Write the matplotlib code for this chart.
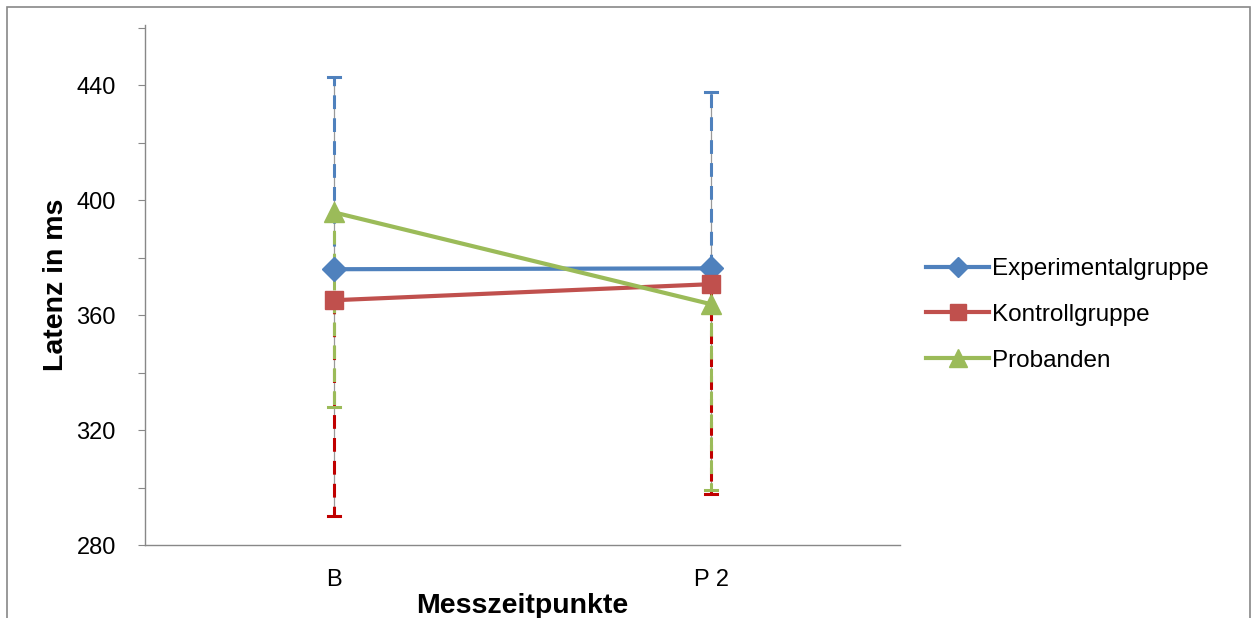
import matplotlib
matplotlib.use("Agg")
import matplotlib.pyplot as plt
from matplotlib.patches import Rectangle

plt.rcParams['font.family'] = ['Liberation Sans', 'DejaVu Sans']

categories = ["B", "P 2"]
series_names = ["Experimentalgruppe", "Kontrollgruppe", "Probanden"]
experimental = [376.0, 376.3]
kontroll = [365.2, 370.8]
probanden = [395.8, 363.8]
# error bar extents (Experimental: plus only; others: minus only)
experimental_plus = [67.0, 61.3]
kontroll_minus = [75.2, 73.1]
probanden_minus = [67.8, 64.7]

colors = ["#4F81BD", "#C0504D", "#9BBB59"]
err_colors = ["#4F81BD", "#C00000", "#9BBB59"]

fig = plt.figure(figsize=(12.57, 6.18), dpi=100)
ax = fig.add_axes([0.1154, 0.1181, 0.716 - 0.1154, 0.8414])

x = list(range(len(categories)))

exp_hi = [m + e for m, e in zip(experimental, experimental_plus)]
kon_lo = [m - e for m, e in zip(kontroll, kontroll_minus)]
pro_lo = [m - e for m, e in zip(probanden, probanden_minus)]

dash = (0, (4.5, 3))
for xi in x:
    # blue plus
    ax.plot([xi, xi], [experimental[xi], exp_hi[xi]], color="#999999", lw=0.9, zorder=1)
    ax.plot([xi, xi], [experimental[xi], exp_hi[xi]], color=err_colors[0], lw=2.2, ls=dash, zorder=1.5)
    ax.plot([xi - 0.016, xi + 0.016], [exp_hi[xi]] * 2, color=err_colors[0], lw=2.2, zorder=1.5)
    # red minus
    ax.plot([xi, xi], [kontroll[xi], kon_lo[xi]], color="#999999", lw=0.9, zorder=1)
    ax.plot([xi, xi], [kontroll[xi], kon_lo[xi]], color=err_colors[1], lw=2.2, ls=dash, zorder=1.5)
    ax.plot([xi - 0.016, xi + 0.016], [kon_lo[xi]] * 2, color=err_colors[1], lw=2.2, zorder=1.5)
    # green minus
    ax.plot([xi, xi], [probanden[xi], pro_lo[xi]], color=err_colors[2], lw=2.2, ls=(1.5, (4.5, 3)), zorder=1.6)
    ax.plot([xi - 0.016, xi + 0.016], [pro_lo[xi]] * 2, color=err_colors[2], lw=2.2, zorder=1.6)

ax.plot(x, experimental, color=colors[0], lw=3, marker="D", ms=12, label=series_names[0], zorder=3)
ax.plot(x, kontroll, color=colors[1], lw=3, marker="s", ms=13, label=series_names[1], zorder=3)
ax.plot(x, probanden, color=colors[2], lw=3, marker="^", ms=15, label=series_names[2], zorder=3)

ax.set_xlim(-0.5, 1.5)
ax.set_ylim(280, 461)
ax.set_yticks([280, 300, 320, 340, 360, 380, 400, 420, 440, 460])
ax.set_yticklabels(["280", "", "320", "", "360", "", "400", "", "440", ""])
ax.set_xticks(x)
ax.set_xticklabels(categories)
ax.tick_params(axis="y", length=5, color="#888888", labelsize=17, pad=16)
ax.tick_params(axis="x", length=0, labelsize=17, pad=17)
for s in ["top", "right"]:
    ax.spines[s].set_visible(False)
for s in ["left", "bottom"]:
    ax.spines[s].set_color("#888888")
    ax.spines[s].set_linewidth(1)

ax.set_ylabel("Latenz in ms", fontsize=20.5, fontweight="bold", labelpad=5)
ax.set_xlabel("Messzeitpunkte", fontsize=20.5, fontweight="bold", labelpad=2)

leg = fig.legend(loc="upper left", bbox_to_anchor=(0.729, 0.598), frameon=False,
                 fontsize=17.5, handlelength=2.6, labelspacing=0.98, handletextpad=0.1,
                 borderaxespad=0, markerscale=0.85)

fig.patches.append(Rectangle((7 / 1257, -0.05), (1250 - 7) / 1257, (611 / 618) + 0.05,
                             transform=fig.transFigure, fill=False, edgecolor="#888888", lw=1.2))

fig.savefig("out.png", dpi=100)
